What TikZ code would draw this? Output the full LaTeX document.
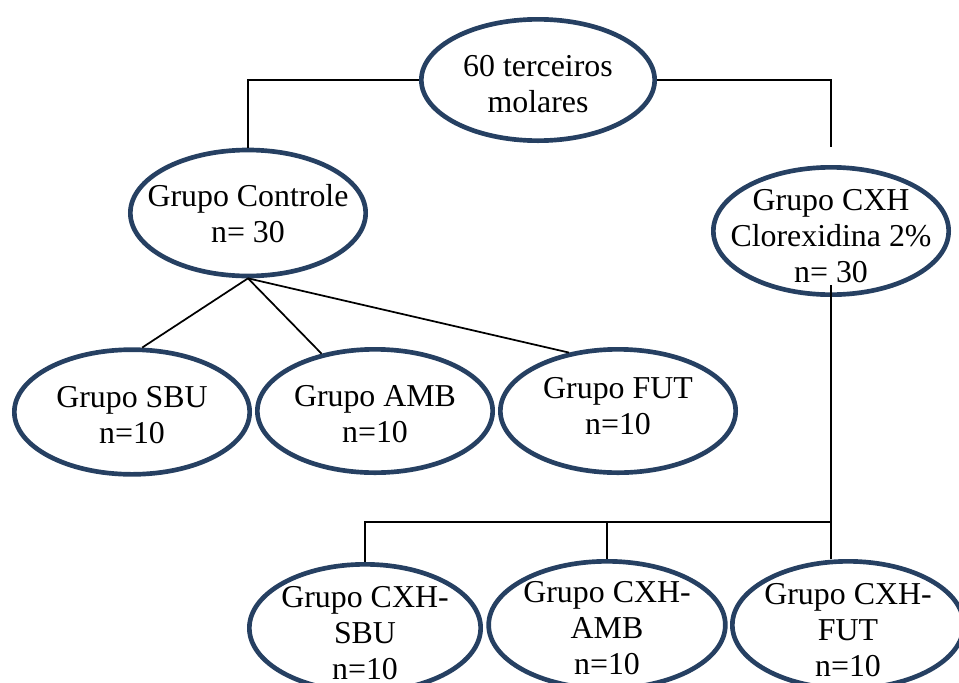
\documentclass[tikz,border=0pt]{standalone}
\usepackage{fontspec}
\setmainfont{Liberation Serif}
\usetikzlibrary{shapes.geometric}
\definecolor{ringblue}{RGB}{38,64,98}

\begin{document}
\begin{tikzpicture}[x=0.75pt, y=-0.75pt,
        grp/.style={ellipse, draw=ringblue, line width=3.5pt, fill=white,
            inner sep=0pt, minimum width=176.5pt, minimum height=94.5pt},
        txt/.style={align=center, inner sep=0pt,
            font=\fontsize{23.9}{27}\selectfont},
        lnk/.style={draw=black, line width=1.3pt}
      ]
      \useasboundingbox (0,0) rectangle (959,682);
      \clip (0,0) rectangle (959,682);

      % Root
      \node[grp, minimum width=175pt, minimum height=91pt,
            label={[txt, yshift=-3pt]center:{60 terceiros\\molares}}] at (538,80) (root) {};

      % Second row
      \node[grp, label={[txt, yshift=-0.5pt]center:{Grupo Controle\\n= 30}}] at (248,213) (ctrl) {};
      \node[grp, minimum height=95.5pt,
            label={[txt, yshift=-4pt]center:{Grupo CXH\\Clorexidina 2\%\\n= 30}}] at (831,231) (cxh) {};

      % Control groups
      \node[grp, minimum height=93.5pt, label={[txt, yshift=-2pt]center:{Grupo SBU\\n=10}}] at (132,412) (sbu) {};
      \node[grp, minimum height=92.5pt, label={[txt, yshift=-2pt]center:{Grupo AMB\\n=10}}] at (375,411) (amb) {};
      \node[grp, minimum height=92.5pt, label={[txt, yshift=3.5pt]center:{Grupo FUT\\n=10}}] at (618,411) (fut) {};

      % CXH groups
      \node[grp, minimum width=173.5pt, minimum height=95.5pt,
            label={[txt, yshift=-3.5pt]center:{Grupo CXH-\\SBU\\n=10}}] at (365,628) (csbu) {};
      \node[grp, minimum width=177.5pt, minimum height=95.5pt,
            label={[txt, yshift=-2pt]center:{Grupo CXH-\\AMB\\n=10}}] at (607,625) (camb) {};
      \node[grp, minimum width=173.5pt, minimum height=95.5pt,
            label={[txt, yshift=-3.5pt]center:{Grupo CXH-\\FUT\\n=10}}] at (848,625) (cfut) {};

      % Root links
      \coordinate (cxhtop) at (831,147);
      \draw[lnk] (root.west) -| (ctrl.north);
      \draw[lnk] (root.east) -| (cxhtop);

      % Control fan-out
      \draw[lnk] (ctrl.south) -- (sbu.81);
      \draw[lnk] (ctrl.south) -- (amb.133);
      \draw[lnk] (ctrl.south) -- (fut.130);

      % CXH bus
      \coordinate (bus) at (831,522);
      \draw[lnk] ([yshift=9pt]cxh.south) -- (bus);
      \draw[lnk] (bus) -| (csbu.north);
      \draw[lnk] (camb.north |- bus) -- (camb.north);
      \draw[lnk] (bus) -- (bus |- cfut.north);
    \end{tikzpicture}
\end{document}
